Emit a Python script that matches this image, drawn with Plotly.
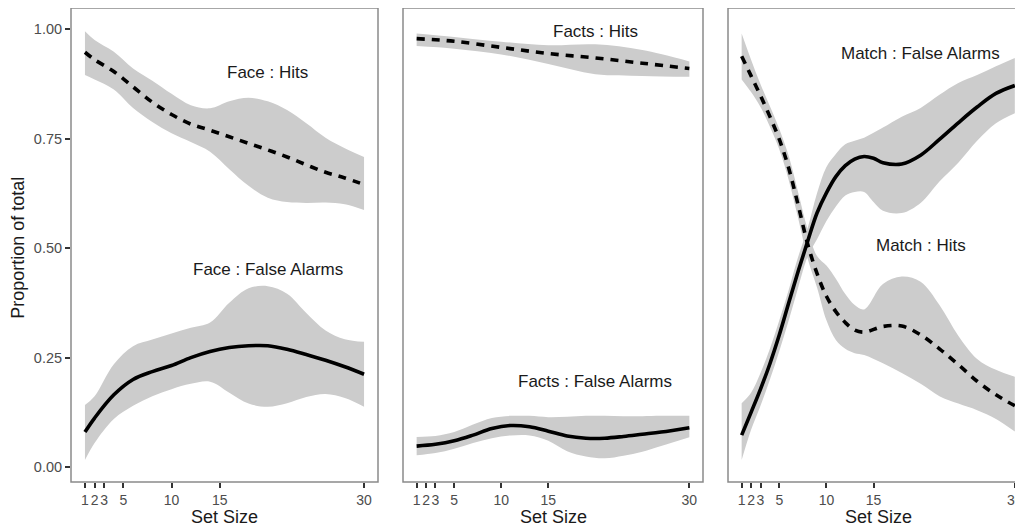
import plotly.graph_objects as go

# ---------------- data ----------------
tick_vals = [1, 2, 3, 5, 10, 15, 30]
tick_text = ["1", "2", "3", "5", "10", "15", "30"]
y_tick_vals = [0, 0.25, 0.5, 0.75, 1.0]
y_tick_text = ["0.00", "0.25", "0.50", "0.75", "1.00"]

# Panel 1 : Face
face_x = [1, 2, 4, 6, 8, 10, 12, 14, 16, 18, 20, 22, 24, 26, 28, 30]
face_hits = [0.947, 0.930, 0.903, 0.868, 0.833, 0.805, 0.783, 0.769, 0.754, 0.739, 0.724, 0.708, 0.690, 0.673, 0.660, 0.645]
face_hits_hi = [0.995, 0.975, 0.948, 0.910, 0.882, 0.852, 0.826, 0.819, 0.835, 0.843, 0.835, 0.815, 0.785, 0.752, 0.728, 0.708]
face_hits_lo = [0.895, 0.885, 0.862, 0.820, 0.788, 0.762, 0.742, 0.720, 0.680, 0.642, 0.615, 0.605, 0.603, 0.604, 0.600, 0.587]
face_fa = [0.080, 0.112, 0.165, 0.200, 0.218, 0.232, 0.250, 0.264, 0.273, 0.277, 0.277, 0.269, 0.257, 0.244, 0.229, 0.212]
face_fa_hi = [0.142, 0.162, 0.235, 0.276, 0.291, 0.305, 0.318, 0.330, 0.375, 0.408, 0.413, 0.396, 0.352, 0.312, 0.292, 0.286]
face_fa_lo = [0.016, 0.055, 0.110, 0.140, 0.162, 0.178, 0.190, 0.195, 0.170, 0.145, 0.138, 0.146, 0.160, 0.167, 0.158, 0.138]

# Panel 2 : Facts
facts_hits_x = [1, 5, 10, 15, 20, 25, 30]
facts_hits = [0.978, 0.972, 0.958, 0.944, 0.934, 0.922, 0.910]
facts_hits_hi = [0.990, 0.982, 0.971, 0.963, 0.965, 0.952, 0.926]
facts_hits_lo = [0.961, 0.955, 0.942, 0.920, 0.897, 0.893, 0.891]
facts_fa_x = [1, 3, 5, 7, 9, 11, 13, 15, 17, 19, 21, 23, 25, 27, 30]
facts_fa = [0.048, 0.052, 0.060, 0.073, 0.088, 0.095, 0.092, 0.082, 0.071, 0.066, 0.066, 0.070, 0.075, 0.080, 0.090]
facts_fa_hi = [0.069, 0.071, 0.080, 0.097, 0.112, 0.117, 0.117, 0.114, 0.115, 0.117, 0.117, 0.116, 0.116, 0.117, 0.117]
facts_fa_lo = [0.027, 0.032, 0.042, 0.055, 0.066, 0.072, 0.072, 0.060, 0.036, 0.024, 0.020, 0.026, 0.035, 0.048, 0.068]

# Panel 3 : Match
match_hits_x = [1, 2, 3, 4, 5, 6, 7, 8, 9, 10, 11, 12, 13, 14, 16, 18, 20, 22, 24, 26, 28, 30]
match_hits = [0.938, 0.893, 0.848, 0.800, 0.748, 0.682, 0.598, 0.510, 0.442, 0.390, 0.355, 0.330, 0.313, 0.308, 0.321, 0.322, 0.302, 0.270, 0.234, 0.196, 0.165, 0.140]
match_hits_hi = [0.990, 0.930, 0.874, 0.824, 0.772, 0.710, 0.627, 0.543, 0.482, 0.460, 0.430, 0.395, 0.370, 0.360, 0.418, 0.435, 0.423, 0.370, 0.300, 0.247, 0.222, 0.206]
match_hits_lo = [0.885, 0.856, 0.822, 0.777, 0.725, 0.655, 0.568, 0.476, 0.410, 0.335, 0.290, 0.270, 0.260, 0.256, 0.237, 0.215, 0.190, 0.162, 0.145, 0.130, 0.110, 0.081]
match_fa_x = [1, 2, 3, 4, 5, 6, 7, 8, 9, 10, 11, 12, 13, 14, 15, 16, 18, 20, 22, 24, 26, 28, 30]
match_fa = [0.073, 0.125, 0.178, 0.236, 0.302, 0.375, 0.447, 0.515, 0.580, 0.626, 0.663, 0.688, 0.703, 0.709, 0.705, 0.695, 0.692, 0.712, 0.748, 0.786, 0.822, 0.853, 0.871]
match_fa_hi = [0.146, 0.170, 0.215, 0.270, 0.335, 0.405, 0.480, 0.545, 0.625, 0.685, 0.715, 0.737, 0.745, 0.752, 0.763, 0.775, 0.800, 0.820, 0.850, 0.877, 0.895, 0.915, 0.934]
match_fa_lo = [0.016, 0.085, 0.140, 0.200, 0.265, 0.335, 0.410, 0.480, 0.520, 0.562, 0.595, 0.620, 0.628, 0.628, 0.605, 0.585, 0.580, 0.603, 0.652, 0.695, 0.745, 0.785, 0.808]

labels = [
    ("Face : Hits", 1, 20, 0.90),
    ("Face : False Alarms", 1, 20, 0.45),
    ("Facts : Hits", 2, 20, 0.995),
    ("Facts : False Alarms", 2, 20, 0.195),
    ("Match : False Alarms", 3, 20, 0.945),
    ("Match : Hits", 3, 20, 0.505),
]

# ---------------- figure ----------------
RIBBON = "rgb(204,204,204)"
FONT = "Liberation Sans, Arial, sans-serif"

series = [
    (1, face_x, face_hits, face_hits_lo, face_hits_hi, "dash"),
    (1, face_x, face_fa, face_fa_lo, face_fa_hi, "solid"),
    (2, facts_hits_x, facts_hits, facts_hits_lo, facts_hits_hi, "dash"),
    (2, facts_fa_x, facts_fa, facts_fa_lo, facts_fa_hi, "solid"),
    (3, match_hits_x, match_hits, match_hits_lo, match_hits_hi, "dash"),
    (3, match_fa_x, match_fa, match_fa_lo, match_fa_hi, "solid"),
]

fig = go.Figure()

def axes(p):
    return ("x" if p == 1 else f"x{p}", "y" if p == 1 else f"y{p}")

for p, xs, ys, lo, hi, dash in series:
    xa, ya = axes(p)
    fig.add_trace(go.Scatter(x=xs, y=lo, mode="lines", line=dict(width=0, shape="spline", smoothing=1.0),
                             xaxis=xa, yaxis=ya, showlegend=False, hoverinfo="skip"))
    fig.add_trace(go.Scatter(x=xs, y=hi, mode="lines", line=dict(width=0, shape="spline", smoothing=1.0),
                             fill="tonexty", fillcolor=RIBBON,
                             xaxis=xa, yaxis=ya, showlegend=False, hoverinfo="skip"))

for p, xs, ys, lo, hi, dash in series:
    xa, ya = axes(p)
    fig.add_trace(go.Scatter(x=xs, y=ys, mode="lines",
                             line=dict(color="black", width=3.6, shape="spline", smoothing=1.0,
                                       dash="8px,7px" if dash == "dash" else "solid"),
                             xaxis=xa, yaxis=ya, showlegend=False))

# page body has an 8px margin, so the figure starts at (8, 8)
W, H = 1015, 521
L, R, T, B = 63, 0, 0, 47
pw = W - L - R
doms = [(0, 307 / pw), (332 / pw, 632 / pw), (657 / pw, 1.0)]
xranges = [[-0.45, 31.45], [-0.45, 31.45], [-0.45, 30.87]]
yrange = [-0.034, 1.048]
title_cx = [(0 + 307 / 2) / pw, (332 + 150) / pw, (657 + 150) / pw]

layout = dict(width=W, height=H, margin=dict(l=L, r=R, t=T, b=B, autoexpand=False),
              plot_bgcolor="white", paper_bgcolor="white",
              font=dict(family=FONT))

for i in range(3):
    k = "" if i == 0 else str(i + 1)
    layout["xaxis" + k] = dict(domain=list(doms[i]), range=xranges[i], tickvals=tick_vals, ticktext=tick_text,
                               ticks="outside", ticklen=5, tickwidth=2, tickcolor="#333333", tickangle=0,
                               ticklabeloverflow="allow",
                               tickfont=dict(size=14, color="#4D4D4D", family=FONT), automargin=False,
                               showgrid=False, zeroline=False, showline=False,
                               anchor="y" if i == 0 else "y" + k)
    layout["yaxis" + k] = dict(domain=[0, 1], range=yrange, tickvals=y_tick_vals, ticktext=y_tick_text,
                               ticks="outside" if i == 0 else "", ticklen=5, tickwidth=2, tickcolor="#333333",
                               showticklabels=(i == 0), automargin=False,
                               tickfont=dict(size=14.5, color="#4D4D4D", family=FONT),
                               showgrid=False, zeroline=False, showline=False,
                               anchor="x" if i == 0 else "x" + k)

fig.update_layout(**layout)

shapes = []
for i in range(3):
    k = "" if i == 0 else str(i + 1)
    shapes.append(dict(type="rect", xref=f"x{k} domain", yref=f"y{k} domain", x0=0, x1=1.0 if i < 2 else 1.05,
                       y0=0, y1=1, line=dict(color="#8A8A8A", width=1.5), layer="above"))
fig.update_layout(shapes=shapes)

ann = []
for text, p, x, y in labels:
    xa, ya = axes(p)
    ann.append(dict(text=text, x=x, y=y, xref=xa, yref=ya, showarrow=False,
                    font=dict(size=17, color="#1A1A1A", family=FONT), xanchor="center", yanchor="middle"))
for i in range(3):
    ann.append(dict(text="Set Size", x=title_cx[i], y=0, xref="paper", yref="paper", showarrow=False,
                    xanchor="center", yanchor="middle", yshift=-35,
                    font=dict(size=18, color="#1A1A1A", family=FONT)))
ann.append(dict(text="Proportion of total", x=0, y=0.494, xref="paper", yref="paper", showarrow=False,
                xanchor="center", yanchor="middle", xshift=-53, textangle=-90,
                font=dict(size=18, color="#1A1A1A", family=FONT)))
fig.update_layout(annotations=ann)

fig.write_html("out.html")
